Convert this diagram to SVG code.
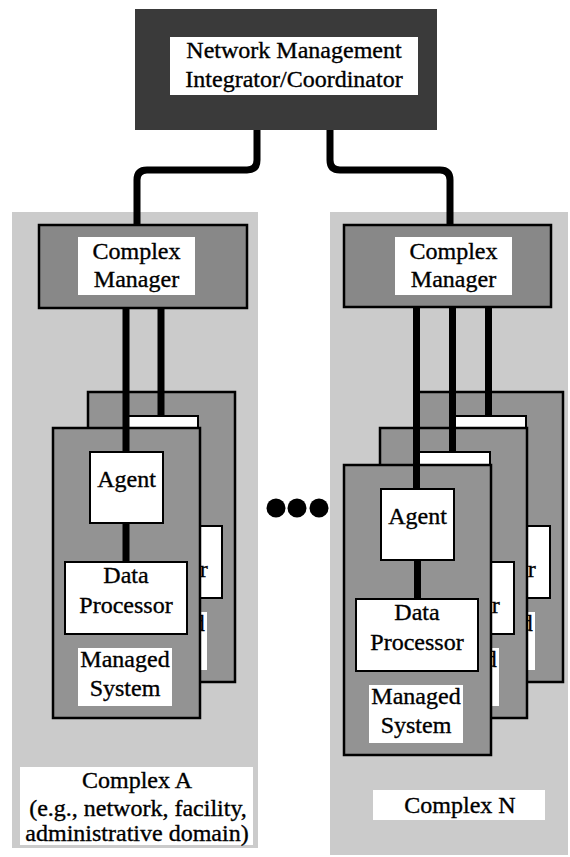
<svg xmlns="http://www.w3.org/2000/svg" width="570" height="857" viewBox="0 0 570 857">
<style>
text{font-family:"Liberation Serif","Times New Roman",serif;font-size:24px;fill:#000;stroke:#000;stroke-width:0.35;text-anchor:middle}
.cx{fill:#cbcbcb}
.cm{fill:#888;stroke:#000;stroke-width:2.5}
.sys{fill:#939393;stroke:#000;stroke-width:2.5}
.wb{fill:#fff;stroke:#000;stroke-width:2}
.lab{fill:#fff}
.conn{fill:none;stroke:#000;stroke-width:7}
</style>
<defs>
<g id="msys">
<rect class="sys" x="0" y="0" width="147" height="290"/>
<rect class="wb" x="37" y="24" width="73" height="71"/>
<text x="73.5" y="59">Agent</text>
<rect class="wb" x="12" y="134" width="122" height="72"/>
<text x="73" y="155">Data</text>
<text x="73" y="185">Processor</text>
<rect class="lab" x="25" y="220" width="94" height="58"/>
<text x="72" y="239">Managed</text>
<text x="72" y="268">System</text>
</g>
</defs>
<rect width="570" height="857" fill="#fff"/>
<g id="integrator">
<rect x="135" y="9" width="302" height="121" fill="#3a3a3a"/>
<rect x="170" y="37" width="248" height="58" fill="#fff"/>
<text x="294" y="58">Network Management</text>
<text x="294" y="87">Integrator/Coordinator</text>
</g>
<g id="complexA">
<rect class="cx" x="12" y="212" width="246" height="636"/>
<rect class="lab" x="20" y="767" width="233" height="78"/>
<text x="137" y="788">Complex A</text>
<text x="138" y="816">(e.g., network, facility,</text>
<text x="137" y="841">administrative domain)</text>
</g>
<g id="complexN">
<rect class="cx" x="330" y="212" width="238" height="643"/>
<rect class="lab" x="373" y="790" width="172" height="30"/>
<text x="460" y="813">Complex N</text>
</g>
<g id="managerA">
<rect class="cm" x="39" y="225" width="208" height="83"/>
<rect fill="#fff" x="78" y="237" width="117" height="58"/>
<text x="136.5" y="259">Complex</text>
<text x="136.5" y="287">Manager</text>
</g>
<g id="managerN">
<rect class="cm" x="344" y="225" width="207" height="82"/>
<rect fill="#fff" x="395" y="237" width="117" height="58"/>
<text x="453.5" y="259">Complex</text>
<text x="453.5" y="287">Manager</text>
</g>
<g id="systemA2"><use href="#msys" x="88" y="392"/></g>
<g id="systemA1"><use href="#msys" x="53" y="428"/></g>
<g id="systemN3"><use href="#msys" x="416" y="392"/></g>
<g id="systemN2"><use href="#msys" x="380" y="428"/></g>
<g id="systemN1"><use href="#msys" x="344" y="465"/></g>
<g id="ellipsis">
<circle cx="276" cy="508" r="9.5"/>
<circle cx="297" cy="508" r="9.5"/>
<circle cx="319" cy="508" r="9.5"/>
</g>
<g id="connectors">
<path class="conn" d="M257,130 V160 Q257,170 247,170 H147 Q137,170 137,180 V225"/>
<path class="conn" d="M330,130 V160 Q330,170 340,170 H440 Q450,170 450,180 V225"/>
<path class="conn" d="M126,308 V452"/>
<path class="conn" d="M161,308 V417"/>
<path class="conn" d="M126,523 V562"/>
<path class="conn" d="M416.5,307 V489"/>
<path class="conn" d="M452.5,307 V452"/>
<path class="conn" d="M488.5,307 V416"/>
<path class="conn" d="M417.5,560 V599"/>
</g>
</svg>
